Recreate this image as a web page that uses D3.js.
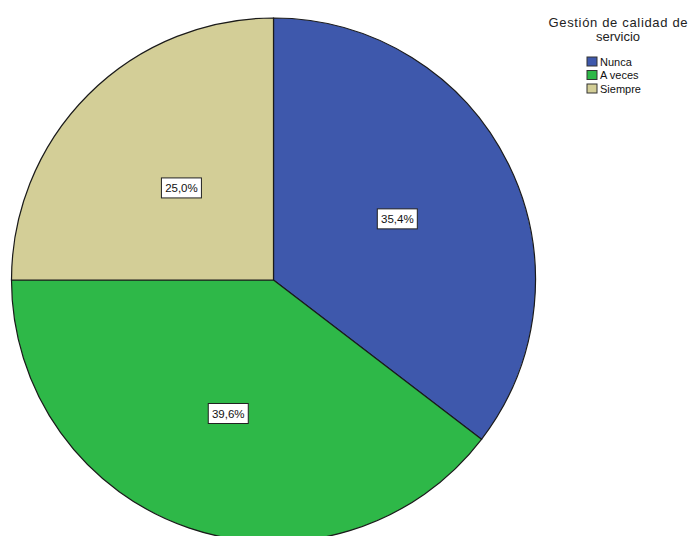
<!DOCTYPE html>
<html>
<head>
<meta charset="utf-8">
<script src="https://cdn.jsdelivr.net/npm/d3@7"></script>
<style>
  html, body { margin: 0; padding: 0; background: #ffffff; }
  svg { display: block; font-family: "Liberation Sans", Arial, sans-serif; }
</style>
</head>
<body>
<svg id="chart" width="692" height="536"></svg>
<script>
// Gestión de calidad de servicio — porcentajes por categoría
const categories = ["Nunca", "A veces", "Siempre"];
const values = [35.4, 39.6, 25.0];
const colors = ["#3e58ac", "#2eb848", "#d3ce97"];
const legendTitle = ["Gestión de calidad de", "servicio"];

const svg = d3.select("#chart");
const cx = 273.5, cy = 280, radius = 262;
// distance of each value label from the centre, as a share of the radius
const labelOffsets = [0.527, 0.538, 0.497];

const data = categories.map((c, i) => ({ name: c, value: values[i], color: colors[i] }));

const pie = d3.pie().value(d => d.value).sort(null);
const arc = d3.arc().innerRadius(0).outerRadius(radius);

const g = svg.append("g").attr("transform", `translate(${cx},${cy})`);
const arcs = pie(data);

g.selectAll("path.slice")
  .data(arcs)
  .join("path")
  .attr("class", "slice")
  .attr("d", arc)
  .attr("fill", d => d.data.color)
  .attr("stroke", "#1a1a1a")
  .attr("stroke-width", 1.2);

const fmt = v => v.toFixed(1).replace(".", ",") + "%";

const labels = g.selectAll("g.lbl")
  .data(arcs)
  .join("g")
  .attr("class", "lbl")
  .attr("transform", (d, i) => {
    const r = radius * labelOffsets[i];
    const [x, y] = d3.arc().innerRadius(r).outerRadius(r).centroid(d);
    return `translate(${x},${y})`;
  });

labels.append("rect")
  .attr("x", -20).attr("y", -10)
  .attr("width", 40).attr("height", 20)
  .attr("fill", "#ffffff")
  .attr("stroke", "#222222")
  .attr("stroke-width", 1);

labels.append("text")
  .attr("text-anchor", "middle")
  .attr("dy", "0.36em")
  .attr("font-size", 11.5)
  .attr("fill", "#111")
  .text(d => fmt(d.data.value));

// Leyenda
const legend = svg.append("g");
legend.selectAll("text.title")
  .data(legendTitle)
  .join("text")
  .attr("class", "title")
  .attr("x", 618)
  .attr("y", (d, i) => 27 + i * 14)
  .attr("text-anchor", "middle")
  .attr("font-size", 13)
  .attr("fill", "#222")
  .attr("textLength", (d, i) => i === 0 ? 139 : null)
  .attr("lengthAdjust", "spacing")
  .text(d => d);

const items = legend.selectAll("g.item")
  .data(data)
  .join("g")
  .attr("class", "item")
  .attr("transform", (d, i) => `translate(587,${57 + i * 13.5})`);

items.append("rect")
  .attr("width", 10).attr("height", 9)
  .attr("fill", d => d.color)
  .attr("stroke", "#333")
  .attr("stroke-width", 1);

items.append("text")
  .attr("x", 13)
  .attr("y", 8.5)
  .attr("font-size", 11)
  .attr("fill", "#111")
  .text(d => d.name);
</script>
</body>
</html>
